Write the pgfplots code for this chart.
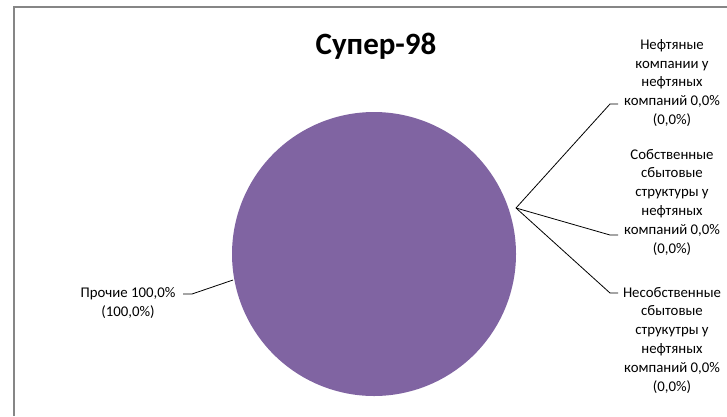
\documentclass[border=0pt]{standalone}
\usepackage{fontspec}
\setmainfont{Carlito}
\usepackage{pgfplots}
\pgfplotsset{compat=1.18}
\definecolor{piepurple}{RGB}{128,100,162}
\definecolor{framegray}{RGB}{134,134,134}
% shares (percent): Прочие, Нефтяные компании, Собственные, Несобственные
\def\shareA{100.0}
\begin{document}
\begin{tikzpicture}
\begin{axis}[width=727pt,height=416pt,scale only axis,at={(0pt,0pt)},anchor=south west,
  xmin=0,xmax=727,ymin=0,ymax=416,y dir=reverse,hide axis,clip=false]
% pie slice "Прочие" = 100 %
\addplot[fill=piepurple,draw=none,domain=90:90-3.6*\shareA,samples=241]
  ({374+142*cos(x)},{254+142*sin(x)}) -- cycle;
% leader lines
\addplot[black,line width=0.8pt] coordinates {(516,208) (610,104) (618,104)};
\addplot[black,line width=0.8pt] coordinates {(516,208) (610,235) (618,235)};
\addplot[black,line width=0.8pt] coordinates {(516,208) (610,293) (618,293)};
\addplot[black,line width=0.8pt] coordinates {(183,294) (192,294) (233,280)};
% frame
\draw[framegray,line width=1.3pt] (axis cs:14,416) -- (axis cs:14,7) -- (axis cs:727,7);
% title
\node[font=\fontsize{31}{36}\selectfont\bfseries] at (axis cs:376,46) {Супер-98};
% labels
\node[align=center,font=\fontsize{14.8}{18.8}\selectfont] at (axis cs:672,83)
  {Нефтяные\\компании у\\нефтяных\\компаний 0,0\%\\(0,0\%)};
\node[align=center,font=\fontsize{14.8}{18.8}\selectfont] at (axis cs:672,202)
  {Собственные\\сбытовые\\структуры у\\нефтяных\\компаний 0,0\%\\(0,0\%)};
\node[align=center,font=\fontsize{14.8}{18.8}\selectfont] at (axis cs:672,340)
  {Несобственные\\сбытовые\\струкутры у\\нефтяных\\компаний 0,0\%\\(0,0\%)};
\node[align=center,font=\fontsize{14.8}{18.8}\selectfont] at (axis cs:128,303)
  {Прочие 100,0\%\\(100,0\%)};
\end{axis}
\pgfresetboundingbox
\useasboundingbox (0pt,0pt) rectangle (727pt,416pt);
\end{tikzpicture}
\end{document}
